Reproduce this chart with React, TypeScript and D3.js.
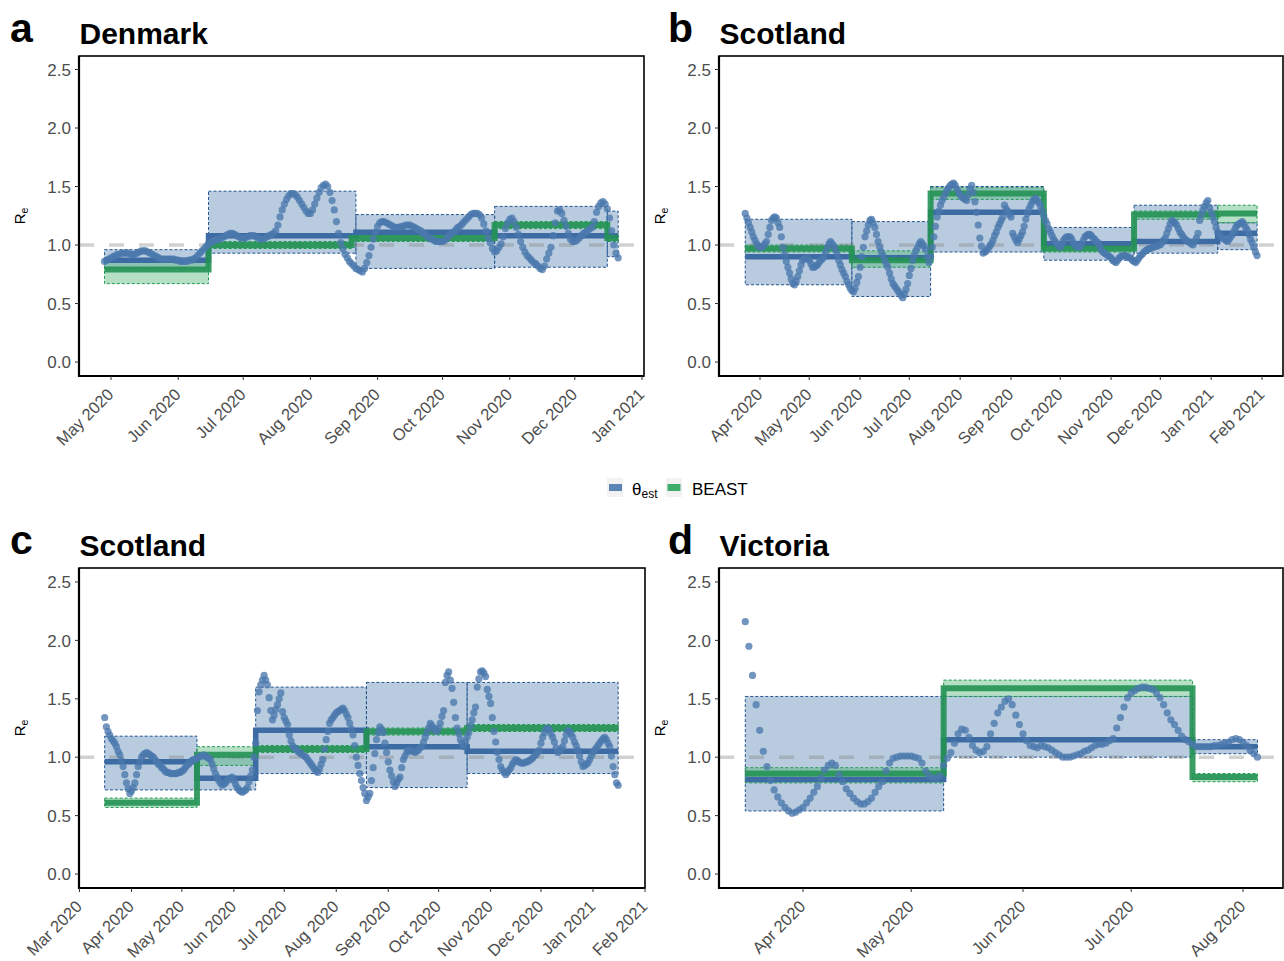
import React from "react";
import * as d3 from "d3";

const parse = d3.utcParse("%Y-%m-%d");
const fmtMonth = d3.utcFormat("%b %Y");
const Y_TICKS = [0, 0.5, 1.0, 1.5, 2.0, 2.5];

// ---------- Panel a: Denmark ----------
const denmarkStart = "2020-04-28";
const denmarkDaily = [
  0.86,0.87,0.88,0.89,0.90,0.91,0.92,0.92,0.93,0.93,
  0.93,0.93,0.92,0.92,0.92,0.93,0.94,0.95,0.95,0.95,
  0.94,0.93,0.92,0.91,0.90,0.89,0.88,0.88,0.88,0.88,
  0.88,0.88,0.88,0.87,0.87,0.86,0.86,0.86,0.86,0.87,
  0.87,0.88,0.89,0.91,0.93,0.95,0.97,0.99,1.01,1.02,
  1.03,1.04,1.05,1.05,1.06,1.07,1.08,1.09,1.10,1.10,
  1.09,1.08,1.07,1.06,1.06,1.06,1.07,1.08,1.08,1.08,
  1.07,1.06,1.05,1.05,1.06,1.07,1.08,1.09,1.10,1.12,
  1.17,1.24,1.30,1.35,1.39,1.42,1.44,1.44,1.43,1.41,
  1.38,1.35,1.32,1.29,1.27,1.27,1.30,1.35,1.40,1.45,
  1.49,1.51,1.52,1.50,1.45,1.38,1.30,1.20,1.10,1.02,
  0.97,0.92,0.89,0.86,0.84,0.82,0.80,0.79,0.78,0.77,
  0.80,0.85,0.91,0.98,1.05,1.11,1.16,1.19,1.20,1.20,
  1.19,1.18,1.17,1.16,1.15,1.15,1.15,1.16,1.16,1.17,
  1.17,1.17,1.16,1.15,1.14,1.13,1.12,1.10,1.09,1.07,
  1.06,1.05,1.04,1.03,1.03,1.03,1.03,1.04,1.06,1.08,
  1.10,1.11,1.13,1.15,1.16,1.18,1.20,1.22,1.24,1.26,
  1.27,1.27,1.27,1.26,1.23,1.18,1.12,1.06,1.02,0.97,
  0.94,0.95,0.98,1.01,1.07,1.14,1.19,1.22,1.23,1.20,
  1.15,1.09,1.03,0.98,0.94,0.91,0.89,0.87,0.85,0.84,
  0.82,0.80,0.79,0.82,0.88,0.93,0.98,1.08,1.19,1.29,
  1.30,1.27,1.21,1.16,1.10,1.05,1.03,1.03,1.04,1.06,
  1.08,1.10,1.11,1.12,1.14,1.15,1.20,1.28,1.33,1.36,
  1.37,1.35,1.31,1.23,1.12,1.00,0.93,0.89,
];
const denmarkEstBreaks = ["2020-04-28","2020-06-15","2020-08-22","2020-10-25","2020-12-16","2020-12-21"];
const denmarkEstMean = [0.87, 1.08, 1.11, 1.08, 1.08];
const denmarkEstLo = [0.80, 0.93, 0.80, 0.81, 0.90];
const denmarkEstHi = [0.96, 1.46, 1.26, 1.33, 1.29];
const denmarkBeastBreaks = ["2020-04-28","2020-06-15","2020-08-20","2020-10-25","2020-12-16","2020-12-21"];
const denmarkBeastMean = [0.79, 1.00, 1.06, 1.17, 1.06];
const denmarkBeastLo = [0.67, 0.97, 1.03, 1.14, 1.03];
const denmarkBeastHi = [0.86, 1.03, 1.09, 1.20, 1.09];
const denmarkTicks = ["2020-05-01","2020-06-01","2020-07-01","2020-08-01","2020-09-01","2020-10-01","2020-11-01","2020-12-01","2021-01-01"];

// ---------- Panel b: Scotland ----------
const scotlandBStart = "2020-03-23";
const scotlandBDaily = [
  1.27,1.23,1.19,1.15,1.11,1.07,1.04,1.01,0.99,0.98,
  0.98,0.99,1.01,1.03,1.09,1.15,1.21,1.23,1.24,1.23,
  1.19,1.15,1.07,0.98,0.92,0.86,0.81,0.76,0.71,0.67,
  0.66,0.69,0.73,0.78,0.83,0.87,0.88,0.89,0.89,0.87,
  0.84,0.81,0.81,0.82,0.83,0.85,0.87,0.88,0.90,0.94,
  0.98,1.01,1.03,1.01,0.99,0.96,0.92,0.87,0.83,0.79,
  0.76,0.73,0.69,0.66,0.63,0.61,0.60,0.63,0.68,0.73,
  0.81,0.90,0.98,1.07,1.12,1.17,1.21,1.22,1.19,1.15,
  1.09,1.03,0.98,0.94,0.91,0.87,0.84,0.81,0.76,0.71,
  0.67,0.65,0.63,0.61,0.59,0.57,0.55,0.58,0.62,0.67,
  0.74,0.80,0.87,0.91,0.95,0.98,1.01,1.03,1.01,0.99,
  0.96,0.90,0.85,0.90,0.98,1.07,1.16,1.24,1.29,1.34,
  1.38,1.41,1.44,1.47,1.49,1.51,1.52,1.53,1.51,1.48,
  1.45,1.43,1.41,1.40,1.39,1.38,1.43,1.48,1.51,1.45,
  1.37,1.28,1.17,1.06,0.99,0.93,0.94,0.95,0.97,0.99,
  1.01,1.04,1.08,1.11,1.15,1.18,1.21,1.24,1.34,1.31,
  1.29,1.26,1.24,1.10,1.07,1.04,1.02,1.05,1.08,1.11,
  1.16,1.22,1.27,1.31,1.34,1.37,1.39,1.40,1.38,1.36,
  1.33,1.29,1.25,1.21,1.18,1.14,1.11,1.08,1.05,1.03,
  1.01,0.99,0.98,1.01,1.04,1.06,1.07,1.07,1.07,1.05,
  1.02,1.00,0.99,0.98,0.98,1.01,1.04,1.07,1.08,1.09,
  1.09,1.08,1.06,1.05,1.03,1.02,0.99,0.96,0.94,0.93,
  0.92,0.91,0.90,0.89,0.87,0.86,0.85,0.87,0.89,0.90,
  0.91,0.91,0.91,0.90,0.89,0.89,0.87,0.86,0.85,0.87,
  0.89,0.91,0.92,0.94,0.95,0.96,0.97,0.97,0.98,0.98,
  0.99,0.99,1.00,1.00,1.02,1.04,1.06,1.10,1.14,1.18,
  1.21,1.20,1.19,1.17,1.14,1.11,1.09,1.07,1.05,1.04,
  1.03,1.02,1.01,1.00,1.03,1.06,1.10,1.21,1.26,1.30,
  1.33,1.36,1.38,1.32,1.28,1.24,1.20,1.15,1.11,1.09,
  1.07,1.06,1.05,1.04,1.03,1.05,1.07,1.09,1.12,1.15,
  1.17,1.18,1.19,1.20,1.18,1.15,1.13,1.09,1.05,1.02,
  0.98,0.94,0.91,
];
const scotlandBEstBreaks = ["2020-03-23","2020-05-27","2020-07-14","2020-09-21","2020-11-15","2021-01-05","2021-01-29"];
const scotlandBEstMean = [0.90, 0.89, 1.28, 1.01, 1.03, 1.10];
const scotlandBEstLo = [0.66, 0.56, 0.94, 0.87, 0.93, 0.96];
const scotlandBEstHi = [1.22, 1.20, 1.50, 1.15, 1.34, 1.19];
const scotlandBBeastBreaks = ["2020-03-23","2020-05-27","2020-07-14","2020-09-21","2020-11-15","2021-01-05","2021-01-29"];
const scotlandBBeastMean = [0.97, 0.87, 1.44, 0.97, 1.26, 1.27];
const scotlandBBeastLo = [0.94, 0.81, 1.39, 0.94, 1.22, 1.19];
const scotlandBBeastHi = [1.00, 0.95, 1.49, 1.00, 1.29, 1.34];
const scotlandBTicks = ["2020-04-01","2020-05-01","2020-06-01","2020-07-01","2020-08-01","2020-09-01","2020-10-01","2020-11-01","2020-12-01","2021-01-01","2021-02-01"];

// ---------- Panel c: Scotland ----------
const scotlandCStart = "2020-03-16";
const scotlandCDaily = [
  1.34,1.26,1.22,1.19,1.16,1.14,1.12,1.09,1.05,1.02,
  0.97,0.92,0.85,0.78,0.73,0.69,0.71,0.74,0.78,0.85,
  0.92,0.96,1.00,1.02,1.03,1.04,1.03,1.02,1.01,1.00,
  0.98,0.96,0.94,0.93,0.91,0.90,0.88,0.87,0.87,0.86,
  0.86,0.86,0.86,0.86,0.87,0.87,0.88,0.89,0.91,0.93,
  0.94,0.96,0.97,0.98,0.98,0.99,1.00,1.01,1.01,1.02,
  1.01,1.00,0.99,0.98,0.94,0.90,0.86,0.83,0.80,0.78,
  0.76,0.77,0.78,0.80,0.81,0.82,0.83,0.80,0.77,0.74,
  0.72,0.71,0.70,0.71,0.72,0.74,0.79,0.84,0.89,1.00,
  1.12,1.40,1.56,1.62,1.66,1.70,1.66,1.62,1.51,1.40,
  1.32,1.36,1.41,1.45,1.50,1.55,1.39,1.34,1.31,1.28,
  1.19,1.14,1.10,1.08,1.07,1.05,1.04,1.03,1.02,1.01,
  1.00,0.98,0.96,0.94,0.92,0.90,0.88,0.87,0.90,0.94,
  0.98,1.07,1.15,1.22,1.29,1.32,1.34,1.36,1.38,1.39,
  1.40,1.41,1.42,1.40,1.37,1.34,1.29,1.24,1.19,1.10,
  1.00,0.93,0.86,0.80,0.74,0.69,0.63,0.66,0.69,0.80,
  0.91,1.03,1.15,1.21,1.26,1.24,1.21,1.12,1.04,0.96,
  0.89,0.84,0.79,0.75,0.78,0.81,0.83,0.91,0.98,1.01,
  1.04,1.06,1.06,1.05,1.05,1.04,1.05,1.06,1.08,1.09,
  1.13,1.17,1.21,1.25,1.29,1.27,1.25,1.23,1.22,1.25,
  1.29,1.35,1.40,1.64,1.70,1.73,1.66,1.59,1.47,1.34,
  1.25,1.20,1.15,1.12,1.09,1.13,1.17,1.21,1.27,1.32,
  1.38,1.43,1.60,1.67,1.73,1.74,1.72,1.69,1.58,1.52,
  1.46,1.34,1.22,1.13,1.04,0.98,0.92,0.89,0.87,0.85,
  0.87,0.89,0.91,0.94,0.96,0.98,0.97,0.96,0.95,0.95,
  0.95,0.96,0.96,0.97,0.98,0.99,1.01,1.02,1.04,1.06,
  1.12,1.17,1.21,1.24,1.25,1.23,1.20,1.17,1.13,1.08,
  1.04,1.05,1.07,1.09,1.14,1.19,1.23,1.22,1.20,1.17,
  1.13,1.10,1.06,1.01,0.96,0.92,0.93,0.94,0.95,0.98,
  1.01,1.04,1.06,1.08,1.10,1.12,1.14,1.16,1.17,1.15,
  1.12,1.09,1.01,0.92,0.85,0.78,0.76,
];
const scotlandCEstBreaks = ["2020-03-16","2020-05-10","2020-06-14","2020-08-19","2020-10-18","2021-01-16"];
const scotlandCEstMean = [0.96, 0.82, 1.23, 1.09, 1.05];
const scotlandCEstLo = [0.72, 0.72, 0.86, 0.74, 0.86];
const scotlandCEstHi = [1.18, 1.00, 1.60, 1.64, 1.64];
const scotlandCBeastBreaks = ["2020-03-16","2020-05-10","2020-06-14","2020-08-19","2020-10-18","2021-01-16"];
const scotlandCBeastMean = [0.61, 1.02, 1.07, 1.22, 1.25];
const scotlandCBeastLo = [0.57, 0.93, 1.04, 1.19, 1.22];
const scotlandCBeastHi = [0.65, 1.09, 1.10, 1.25, 1.28];
const scotlandCTicks = ["2020-03-01","2020-04-01","2020-05-01","2020-06-01","2020-07-01","2020-08-01","2020-09-01","2020-10-01","2020-11-01","2020-12-01","2021-01-01","2021-02-01"];

// ---------- Panel d: Victoria ----------
const victoriaStart = "2020-03-16";
const victoriaDaily = [
  2.16,1.95,1.70,1.45,1.23,1.05,0.92,0.80,0.72,0.66,
  0.61,0.57,0.54,0.52,0.53,0.55,0.57,0.61,0.65,0.70,
  0.75,0.82,0.89,0.93,0.95,0.93,0.85,0.79,0.73,0.69,
  0.65,0.62,0.60,0.60,0.62,0.65,0.70,0.75,0.79,0.88,
  0.95,0.99,1.00,1.01,1.01,1.01,1.01,1.00,0.99,0.95,
  0.88,0.84,0.82,0.82,0.84,0.93,0.99,1.04,1.12,1.20,
  1.24,1.23,1.17,1.10,1.06,1.04,1.05,1.09,1.20,1.29,
  1.38,1.43,1.48,1.50,1.45,1.36,1.28,1.20,1.14,1.10,
  1.09,1.08,1.10,1.09,1.08,1.06,1.04,1.02,1.00,1.00,
  1.00,1.01,1.02,1.03,1.05,1.06,1.08,1.10,1.11,1.11,
  1.12,1.14,1.16,1.25,1.34,1.43,1.51,1.55,1.57,1.59,
  1.60,1.60,1.59,1.58,1.55,1.51,1.45,1.38,1.32,1.28,
  1.23,1.18,1.15,1.13,1.11,1.09,1.09,1.09,1.09,1.09,
  1.10,1.10,1.11,1.12,1.13,1.15,1.16,1.15,1.13,1.10,
  1.06,1.03,1.00,
];
const victoriaEstBreaks = ["2020-03-16","2020-05-10","2020-07-18","2020-08-05"];
const victoriaEstMean = [0.81, 1.15, 1.09];
const victoriaEstLo = [0.54, 1.00, 1.03];
const victoriaEstHi = [1.52, 1.52, 1.15];
const victoriaBeastBreaks = ["2020-03-16","2020-05-10","2020-07-18","2020-08-05"];
const victoriaBeastMean = [0.86, 1.59, 0.83];
const victoriaBeastLo = [0.78, 1.52, 0.79];
const victoriaBeastHi = [0.91, 1.66, 0.86];
const victoriaTicks = ["2020-04-01","2020-05-01","2020-06-01","2020-07-01","2020-08-01"];

// ---------- styles ----------
const FONT = "'Liberation Sans', Arial, Helvetica, sans-serif";
const BLUE_RIBBON = "#4f7cb0";
const BLUE_EDGE = "#23558f";
const BLUE_LINE = "#3d6ba3";
const GREEN_RIBBON = "#4fb478";
const GREEN_EDGE = "#1f9a50";
const GREEN_LINE = "#249253";
const DOT = "#4a78ad";
const TICK_TEXT = "#4d4d4d";

type Steps = { breaks: string[]; mean: number[]; lo: number[]; hi: number[] };

type PanelCfg = {
  tag: string;
  tagX: number;
  title: string;
  box: { x0: number; x1: number; y0: number; y1: number };
  xAnchor: [string, string];
  xAnchorPx: [number, number];
  yPx: [number, number];
  ticks: string[];
  start: string;
  daily: number[];
  est: Steps;
  beast: Steps;
};

const panels: PanelCfg[] = [
  {
    tag: "a", tagX: 10, title: "Denmark",
    box: { x0: 79, x1: 644, y0: 56, y1: 376 },
    xAnchor: ["2020-05-01", "2021-01-01"], xAnchorPx: [111, 642],
    yPx: [362, 69.5],
    ticks: denmarkTicks, start: denmarkStart, daily: denmarkDaily,
    est: { breaks: denmarkEstBreaks, mean: denmarkEstMean, lo: denmarkEstLo, hi: denmarkEstHi },
    beast: { breaks: denmarkBeastBreaks, mean: denmarkBeastMean, lo: denmarkBeastLo, hi: denmarkBeastHi },
  },
  {
    tag: "b", tagX: 668, title: "Scotland",
    box: { x0: 719, x1: 1283, y0: 56, y1: 376 },
    xAnchor: ["2020-04-01", "2021-02-01"], xAnchorPx: [760, 1262],
    yPx: [362, 69.5],
    ticks: scotlandBTicks, start: scotlandBStart, daily: scotlandBDaily,
    est: { breaks: scotlandBEstBreaks, mean: scotlandBEstMean, lo: scotlandBEstLo, hi: scotlandBEstHi },
    beast: { breaks: scotlandBBeastBreaks, mean: scotlandBBeastMean, lo: scotlandBBeastLo, hi: scotlandBBeastHi },
  },
  {
    tag: "c", tagX: 10, title: "Scotland",
    box: { x0: 79, x1: 645, y0: 568, y1: 888 },
    xAnchor: ["2020-03-01", "2021-02-01"], xAnchorPx: [79.5, 645],
    yPx: [874, 582],
    ticks: scotlandCTicks, start: scotlandCStart, daily: scotlandCDaily,
    est: { breaks: scotlandCEstBreaks, mean: scotlandCEstMean, lo: scotlandCEstLo, hi: scotlandCEstHi },
    beast: { breaks: scotlandCBeastBreaks, mean: scotlandCBeastMean, lo: scotlandCBeastLo, hi: scotlandCBeastHi },
  },
  {
    tag: "d", tagX: 668, title: "Victoria",
    box: { x0: 719, x1: 1283, y0: 568, y1: 888 },
    xAnchor: ["2020-04-01", "2020-08-01"], xAnchorPx: [803, 1243],
    yPx: [874, 582],
    ticks: victoriaTicks, start: victoriaStart, daily: victoriaDaily,
    est: { breaks: victoriaEstBreaks, mean: victoriaEstMean, lo: victoriaEstLo, hi: victoriaEstHi },
    beast: { breaks: victoriaBeastBreaks, mean: victoriaBeastMean, lo: victoriaBeastLo, hi: victoriaBeastHi },
  },
];

function stepPath(s: Steps, x: (d: Date) => number, y: (v: number) => number) {
  const pts: [number, number][] = s.mean.map((m, k) => [x(parse(s.breaks[k])!), y(m)]);
  pts.push([x(parse(s.breaks[s.breaks.length - 1])!), y(s.mean[s.mean.length - 1])]);
  return d3.line().curve(d3.curveStepAfter)(pts) || "";
}

function Ribbons({ s, x, y, fill, edge, opacity }: any) {
  return (
    <g>
      {s.mean.map((_: number, k: number) => {
        const xa = x(parse(s.breaks[k])!);
        const xb = x(parse(s.breaks[k + 1])!);
        const ya = y(s.hi[k]);
        const yb = y(s.lo[k]);
        return (
          <rect key={k} x={xa} y={ya} width={xb - xa} height={yb - ya}
            fill={fill} fillOpacity={opacity} stroke={edge} strokeWidth={1}
            strokeDasharray="3,2" />
        );
      })}
    </g>
  );
}

function Panel({ cfg }: { cfg: PanelCfg }) {
  const { box } = cfg;
  const x = d3.scaleUtc()
    .domain([parse(cfg.xAnchor[0])!, parse(cfg.xAnchor[1])!])
    .range(cfg.xAnchorPx);
  const y = d3.scaleLinear().domain([0, 2.5]).range(cfg.yPx);
  const start = parse(cfg.start)!;
  const midY = (box.y0 + box.y1) / 2;
  const clipId = `clip-${cfg.tag}`;
  return (
    <g>
      <defs>
        <clipPath id={clipId}>
          <rect x={box.x0} y={box.y0} width={box.x1 - box.x0} height={box.y1 - box.y0} />
        </clipPath>
      </defs>
      {/* tag and title */}
      <text x={cfg.tagX} y={box.y0 - 14} fontSize={41} fontWeight="bold" fill="#000">{cfg.tag}</text>
      <text x={box.x0 + 0.5} y={box.y0 - 12} fontSize={30} fontWeight="bold" fill="#000">{cfg.title}</text>

      <g clipPath={`url(#${clipId})`}>
        <Ribbons s={cfg.est} x={x} y={y} fill={BLUE_RIBBON} edge={BLUE_EDGE} opacity={0.4} />
        <Ribbons s={cfg.beast} x={x} y={y} fill={GREEN_RIBBON} edge={GREEN_EDGE} opacity={0.42} />
        <line x1={box.x0} x2={box.x1} y1={y(1)} y2={y(1)} stroke="#808080" strokeOpacity={0.36}
          strokeWidth={3.5} strokeDasharray="15,15" />
        <path d={stepPath(cfg.est, x, y)} fill="none" stroke={BLUE_LINE} strokeWidth={5.5} />
        <path d={stepPath(cfg.beast, x, y)} fill="none" stroke={GREEN_LINE} strokeWidth={6} strokeOpacity={0.9} />
        {cfg.daily.map((v, i) => (
          <circle key={i} cx={x(d3.utcDay.offset(start, i))} cy={y(v)} r={3.6}
            fill={DOT} fillOpacity={0.78} />
        ))}
      </g>

      {/* frame */}
      <rect x={box.x0} y={box.y0} width={box.x1 - box.x0} height={box.y1 - box.y0}
        fill="none" stroke="#000" strokeWidth={1.6} />
      <line x1={box.x0} x2={box.x0} y1={box.y0} y2={box.y1 + 0.8} stroke="#000" strokeWidth={2.2} />
      <line x1={box.x0 - 1} x2={box.x1} y1={box.y1} y2={box.y1} stroke="#000" strokeWidth={2.2} />

      {/* y axis */}
      {Y_TICKS.map((t) => (
        <g key={t}>
          <line x1={box.x0 - 4} x2={box.x0} y1={y(t)} y2={y(t)} stroke="#333" strokeWidth={1} />
          <text x={box.x0 - 8} y={y(t)} dy="0.36em" textAnchor="end" fontSize={17} fill={TICK_TEXT}>
            {d3.format(".1f")(t)}
          </text>
        </g>
      ))}
      <text transform={`translate(${box.x0 - 54},${midY}) rotate(-90)`} textAnchor="middle"
        fontSize={15} fill="#000">
        R<tspan fontSize={10.5} dy={3}>e</tspan>
      </text>

      {/* x axis */}
      {cfg.ticks.map((t) => {
        const tx = x(parse(t)!);
        return (
          <g key={t}>
            <line x1={tx} x2={tx} y1={box.y1} y2={box.y1 + 4} stroke="#333" strokeWidth={1} />
            <text transform={`translate(${tx - 5},${box.y1 + 11}) rotate(-45)`} textAnchor="end"
              dominantBaseline="hanging" fontSize={16.5} fill={TICK_TEXT}>
              {fmtMonth(parse(t)!)}
            </text>
          </g>
        );
      })}
    </g>
  );
}

function Legend() {
  return (
    <g>
      <rect x={607} y={478} width={16} height={19} fill="#f2f2f2" />
      <rect x={609} y={484} width={13} height={7} fill="#5a84b5" />
      <text x={632} y={495} fontSize={17} fill="#000">
        θ<tspan fontSize={12} dy={3}>est</tspan>
      </text>
      <rect x={666} y={478} width={16} height={19} fill="#f2f2f2" />
      <rect x={667.5} y={484} width={13} height={7} fill="#3fac6c" />
      <text x={692} y={495} fontSize={17} fill="#000">BEAST</text>
    </g>
  );
}

export default function App() {
  return (
    <svg width={1284} height={961} viewBox="0 0 1284 961"
      style={{ position: "absolute", left: 0, top: 0, background: "#fff", fontFamily: FONT }}>
      <rect x={0} y={0} width={1284} height={961} fill="#fff" />
      {panels.map((p) => <Panel key={p.tag} cfg={p} />)}
      <Legend />
    </svg>
  );
}
